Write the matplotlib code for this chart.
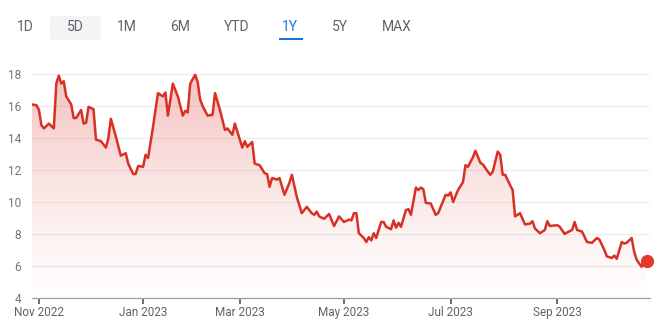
import matplotlib.pyplot as plt
import numpy as np
from matplotlib.patches import FancyBboxPatch

plt.rcParams['font.family'] = ['Roboto', 'DejaVu Sans']

# NYSE holidays inside the window, so the x axis counts trading days
holidays = ['2022-11-24', '2022-12-26', '2023-01-02', '2023-01-16', '2023-02-20',
            '2023-04-07', '2023-05-29', '2023-06-19', '2023-07-04', '2023-09-04']

dates = ['2022-10-27', '2022-10-31', '2022-11-01', '2022-11-02', '2022-11-03', '2022-11-07',
         '2022-11-09', '2022-11-10', '2022-11-11', '2022-11-14', '2022-11-15', '2022-11-16',
         '2022-11-18', '2022-11-21', '2022-11-22', '2022-11-25', '2022-11-28', '2022-11-29',
         '2022-11-30', '2022-12-02', '2022-12-05', '2022-12-07', '2022-12-09', '2022-12-12',
         '2022-12-13', '2022-12-15', '2022-12-19', '2022-12-21', '2022-12-22', '2022-12-27',
         '2022-12-28', '2022-12-29', '2023-01-03', '2023-01-04', '2023-01-05', '2023-01-09',
         '2023-01-11', '2023-01-13', '2023-01-17', '2023-01-18', '2023-01-20', '2023-01-24',
         '2023-01-26', '2023-01-27', '2023-01-30', '2023-01-31', '2023-02-02', '2023-02-03',
         '2023-02-06', '2023-02-07', '2023-02-09', '2023-02-13', '2023-02-14', '2023-02-16',
         '2023-02-21', '2023-02-22', '2023-02-24', '2023-02-27', '2023-03-02', '2023-03-03',
         '2023-03-06', '2023-03-08', '2023-03-09', '2023-03-13', '2023-03-15', '2023-03-16',
         '2023-03-17', '2023-03-20', '2023-03-22', '2023-03-23', '2023-03-27', '2023-03-29',
         '2023-03-30', '2023-04-03', '2023-04-05', '2023-04-10', '2023-04-12', '2023-04-13',
         '2023-04-14', '2023-04-17', '2023-04-19', '2023-04-21', '2023-04-25', '2023-04-27',
         '2023-05-01', '2023-05-03', '2023-05-04', '2023-05-05', '2023-05-08', '2023-05-09',
         '2023-05-11', '2023-05-12', '2023-05-15', '2023-05-16', '2023-05-17', '2023-05-18',
         '2023-05-22', '2023-05-23', '2023-05-24', '2023-05-26', '2023-05-30', '2023-05-31',
         '2023-06-01', '2023-06-02', '2023-06-06', '2023-06-07', '2023-06-08', '2023-06-12',
         '2023-06-13', '2023-06-14', '2023-06-15', '2023-06-16', '2023-06-21', '2023-06-23',
         '2023-06-26', '2023-06-27', '2023-06-29', '2023-06-30', '2023-07-03', '2023-07-05',
         '2023-07-07', '2023-07-11', '2023-07-12', '2023-07-13', '2023-07-17', '2023-07-18',
         '2023-07-20', '2023-07-21', '2023-07-25', '2023-07-26', '2023-07-27', '2023-07-31',
         '2023-08-01', '2023-08-02', '2023-08-03', '2023-08-07', '2023-08-08', '2023-08-09',
         '2023-08-11', '2023-08-15', '2023-08-17', '2023-08-18', '2023-08-21', '2023-08-23',
         '2023-08-25', '2023-08-28', '2023-08-29', '2023-09-01', '2023-09-05', '2023-09-07',
         '2023-09-08', '2023-09-12', '2023-09-13', '2023-09-14', '2023-09-18', '2023-09-20',
         '2023-09-22', '2023-09-26', '2023-09-27', '2023-09-29', '2023-10-02', '2023-10-04',
         '2023-10-05', '2023-10-06', '2023-10-10', '2023-10-11', '2023-10-12', '2023-10-16',
         '2023-10-17', '2023-10-18', '2023-10-20', '2023-10-23', '2023-10-24']

prices = [16.1, 16.05, 15.75, 14.8, 14.6, 14.9,
          14.6, 17.4, 17.9, 17.4, 17.55, 16.6,
          16.1, 15.25, 15.25, 15.75, 14.9, 14.95,
          15.95, 15.8, 13.9, 13.8, 13.4, 14.0,
          15.2, 14.1, 12.9, 13.05, 12.4, 11.75,
          11.75, 12.25, 12.2, 12.95, 12.75, 14.7,
          16.8, 16.6, 16.85, 15.4, 17.4, 16.6,
          15.4, 15.7, 15.6, 17.4, 17.95, 17.5,
          16.4, 16.0, 15.4, 15.45, 16.8, 15.75,
          14.5, 14.6, 14.2, 14.9, 13.4, 13.8,
          13.45, 13.75, 12.4, 12.3, 11.8, 11.75,
          10.95, 11.5, 11.4, 11.5, 10.45, 11.2,
          11.7, 10.3, 9.3, 9.7, 9.3, 9.2,
          9.4, 9.1, 8.95, 9.25, 8.5, 9.1,
          8.75, 8.9, 8.85, 9.3, 9.3, 8.05,
          7.75, 7.5, 7.8, 7.6, 8.05, 7.75,
          8.75, 8.75, 8.45, 8.3, 8.85, 8.4,
          8.7, 8.45, 9.5, 9.55, 9.2, 10.9,
          10.75, 10.9, 10.8, 9.95, 9.9, 9.2,
          9.3, 9.7, 10.45, 10.4, 10.6, 10.0,
          10.75, 11.25, 12.3, 12.2, 12.8, 13.2,
          12.45, 12.35, 11.9, 11.7, 11.9, 13.15,
          12.95, 11.7, 11.7, 11.05, 10.75, 9.1,
          9.3, 8.6, 8.65, 8.8, 8.35, 8.05,
          8.25, 8.8, 8.5, 8.55, 8.45, 8.0,
          8.1, 8.25, 8.75, 8.25, 8.15, 7.5,
          7.45, 7.75, 7.65, 7.0, 6.6, 6.5,
          6.65, 6.45, 7.5, 7.4, 7.45, 7.75,
          6.9, 6.4, 5.95, 6.25, 6.3]

tick_months = ['2022-11-01', '2023-01-01', '2023-03-01', '2023-05-01', '2023-07-01', '2023-09-01']
tick_labels = ['Nov 2022', 'Jan 2023', 'Mar 2023', 'May 2023', 'Jul 2023', 'Sep 2023']
y_ticks = [4, 6, 8, 10, 12, 14, 16, 18]
buttons = ['1D', '5D', '1M', '6M', 'YTD', '1Y', '5Y', 'MAX']
selected = '1Y'

origin = '2022-11-01'
x = np.busday_count(origin, np.array(dates, dtype='datetime64[D]'), holidays=holidays)
first_days = np.busday_offset(np.array(tick_months, dtype='datetime64[D]'), 0, roll='forward', holidays=holidays)
tick_x = np.busday_count(origin, first_days, holidays=holidays)
y = np.array(prices)

red = '#d93025'
fig = plt.figure(figsize=(6.6, 3.22), dpi=100)
ax = fig.add_axes([32 / 660, 24 / 322, 618 / 660, 233.6 / 322])
ax.set_xlim(-2.8, 246.4)
ax.set_ylim(4, 18.6)

for v in y_ticks[1:]:
    ax.axhline(v, color='#ececec', lw=0.8, zorder=0)

# gradient fill under the line
poly = ax.fill_between(x, y, 4, color='none', lw=0)
grad = np.linspace(0, 1, 256).reshape(-1, 1)
cmap_vals = np.zeros((256, 1, 4))
cmap_vals[..., 0] = 217 / 255
cmap_vals[..., 1] = 48 / 255
cmap_vals[..., 2] = 37 / 255
cmap_vals[..., 3] = 0.01 + 0.3 * grad ** 1.3
img = ax.imshow(cmap_vals, extent=[-2.8, 246.4, 4, 18.6], origin='lower', aspect='auto', zorder=1)
img.set_clip_path(poly.get_paths()[0], transform=ax.transData)

ax.plot(x, y, color=red, lw=1.8, zorder=3, solid_joinstyle='round')
ax.plot(x[-1], y[-1], 'o', color='#e03a2f', ms=8.5, zorder=4, clip_on=False)

for s in ['top', 'right', 'left']:
    ax.spines[s].set_visible(False)
ax.spines['bottom'].set_color('#9aa0a6')
ax.spines['bottom'].set_linewidth(0.9)
ax.set_yticks(y_ticks)
ax.set_yticklabels([str(v) for v in y_ticks])
ax.tick_params(axis='y', length=0, pad=8, labelsize=8.5, labelcolor='#70757a')
ax.set_xticks(tick_x)
ax.set_xticklabels(tick_labels)
ax.tick_params(axis='x', length=4, width=1.3, color='#5f6368', pad=2, labelsize=8.5, labelcolor='#5f6368')

# range selector on top
btn_x = [25, 75, 127, 180, 237, 290, 340, 397]
for label, bx in zip(buttons, btn_x):
    col = '#1a73e8' if label == selected else '#5f6368'
    fig.text(bx / 660, 1 - 27 / 322, label, ha='center', va='center', fontsize=10, color=col)
fig.patches.append(FancyBboxPatch((50 / 660, 1 - 40 / 322), 51 / 660, 24 / 322,
                                  boxstyle='round,pad=0,rounding_size=0.005', transform=fig.transFigure,
                                  fc='#f3f4f5', ec='none', zorder=-1))
fig.patches.append(plt.Rectangle((279 / 660, 1 - 40 / 322), 24 / 660, 2.5 / 322,
                                 transform=fig.transFigure, fc='#1a73e8', ec='none'))

fig.savefig('out.png', dpi=100)
